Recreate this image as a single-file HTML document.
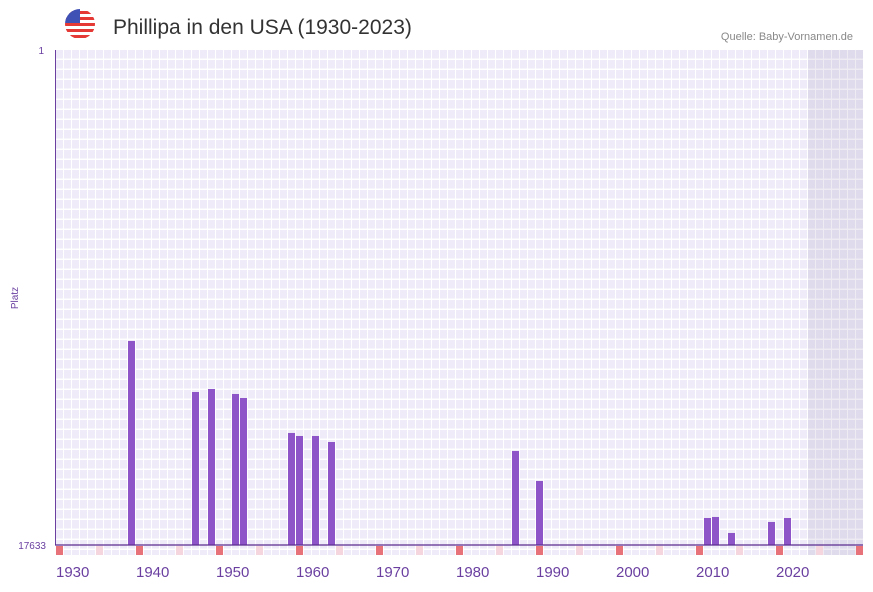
<!DOCTYPE html>
<html><head><meta charset="utf-8"><style>
body{margin:0;background:#fff;font-family:"Liberation Sans",sans-serif}
</style></head><body>
<svg id="c" width="873" height="587" xmlns="http://www.w3.org/2000/svg">
<defs>
<pattern id="g" x="56" y="50" width="8" height="10" patternUnits="userSpaceOnUse">
<rect width="8" height="10" fill="#fff"/><rect x="0" y="0" width="7" height="8.5" fill="#efebf9"/>
</pattern>
<clipPath id="fc"><circle cx="80" cy="24" r="15"/></clipPath>
</defs>
<g clip-path="url(#fc)">
<rect x="65" y="9" width="30" height="30" fill="#fff"/>
<rect x="65" y="11" width="30" height="3" fill="#e53935"/><rect x="65" y="17" width="30" height="3" fill="#e53935"/>
<rect x="65" y="23" width="30" height="3" fill="#e53935"/><rect x="65" y="29" width="30" height="3" fill="#e53935"/>
<rect x="65" y="35" width="30" height="3" fill="#e53935"/>
<rect x="65" y="9" width="15" height="14" fill="#3f51b5"/>
</g>
<text x="113" y="34" font-size="21" fill="#333">Phillipa in den USA (1930-2023)</text>
<text x="853" y="40" font-size="11" fill="#888" text-anchor="end">Quelle: Baby-Vornamen.de</text>
<rect x="56" y="50" width="807" height="505" fill="url(#g)"/>
<rect x="808" y="50" width="55" height="505" fill="#8a7aa8" opacity="0.15"/>
<text x="44" y="54" font-size="10" fill="#6a3fa0" text-anchor="end">1</text>
<text x="46" y="549" font-size="10" fill="#6a3fa0" text-anchor="end">17633</text>
<text x="18" y="298" font-size="10" fill="#6a3fa0" text-anchor="middle" transform="rotate(-90 18 298)">Platz</text>
<g id="bars"></g><g id="marks"></g><g id="xl"></g>
<line x1="55.5" y1="50" x2="55.5" y2="545" stroke="#6a3fa0" stroke-width="1"/>
<line x1="55" y1="545" x2="863" y2="545" stroke="#5b2d8e" stroke-width="1.3"/>
</svg>
<script>
const years=[1939,1947,1949,1952,1953,1959,1960,1962,1964,1987,1990,2011,2012,2014,2019,2021];
const ranks=[10366,12183,12076,12254,12397,13643,13750,13750,13964,14285,15353,16671,16635,17205,16813,16671];
const xTicks=[1930,1940,1950,1960,1970,1980,1990,2000,2010,2020];
const NS="http://www.w3.org/2000/svg";
const x=y=>56+(y-1930)*8;
const yS=r=>50+(r-1)/(17633-1)*495;
const bars=document.getElementById('bars');
years.forEach((yr,i)=>{const r=document.createElementNS(NS,'rect');
r.setAttribute('x',x(yr));r.setAttribute('y',yS(ranks[i]));r.setAttribute('width',7);r.setAttribute('height',545-yS(ranks[i]));r.setAttribute('fill','#8e55c9');


bars.appendChild(r);});
const marks=document.getElementById('marks');
for(let yr=1930;yr<=2030;yr+=5){const r=document.createElementNS(NS,'rect');
r.setAttribute('x',x(yr));r.setAttribute('y',546);r.setAttribute('width',7);r.setAttribute('height',9);
r.setAttribute('fill',yr%10==0?'#e8727a':'#f5d6df');


marks.appendChild(r);}
const xl=document.getElementById('xl');
xTicks.forEach(t=>{const e=document.createElementNS(NS,'text');
e.setAttribute('x',x(t));e.setAttribute('y',577);e.setAttribute('font-size',15);e.setAttribute('fill','#6a3fa0');e.textContent=t;


xl.appendChild(e);});
</script>
</body></html>
